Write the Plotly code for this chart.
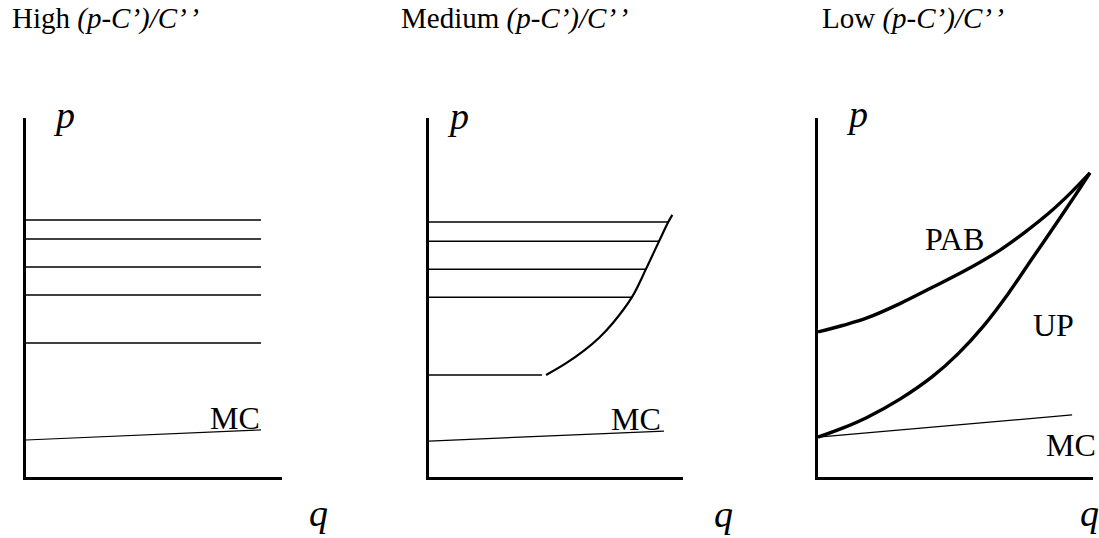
"""
Three panels: price lines vs. marginal cost for high / medium / low (p-C')/C''.
"""

import plotly.graph_objects as go

W, H = 1099, 538
FONT = "Liberation Serif, Times New Roman, serif"

titles = ["High", "Medium", "Low"]

# panel 1 (high): flat price lines ending at the same q
high_prices = [7.16, 6.63, 5.85, 5.07, 3.73]
high_q_end = [9.18, 9.18, 9.18, 9.18, 9.18]
high_mc_q = [0, 9.18]
high_mc_p = [1.03, 1.31]

# panel 2 (medium): flat price lines ending on a rising curve
med_prices = [7.10, 6.57, 5.79, 5.01, 2.84]
med_q_end = [9.42, 9.06, 8.54, 7.99, 4.45]
med_curve_q = [4.61, 5.40, 6.10, 6.70, 7.24, 7.99, 8.54, 9.06, 9.42, 9.58]
med_curve_p = [2.84, 3.17, 3.52, 3.88, 4.29, 5.01, 5.79, 6.57, 7.10, 7.30]
med_mc_q = [0, 9.25]
med_mc_p = [1.00, 1.28]

# panel 3 (low): PAB and UP curves
pab_q = [0, 0.89, 1.78, 2.98, 4.18, 5.40, 6.62, 7.53, 8.44, 9.17, 9.89]
pab_p = [4.04, 4.22, 4.43, 4.83, 5.29, 5.77, 6.32, 6.82, 7.38, 7.90, 8.47]
up_q = [0, 0.89, 1.78, 2.98, 4.18, 5.09, 6.00, 6.91, 7.82, 8.44, 9.05, 9.47, 9.89]
up_p = [1.11, 1.36, 1.66, 2.17, 2.81, 3.43, 4.19, 5.10, 6.12, 6.81, 7.50, 7.98, 8.47]
low_mc_q = [0, 9.24]
low_mc_p = [1.11, 1.73]

# pixel boxes of the three axes (left, right) and shared (top, bottom)
panel_x = [(26, 282), (429, 683), (818, 1093)]
panel_top, panel_bottom = 118, 477


def steps(prices, ends):
    xs, ys = [], []
    for p, e in zip(prices, ends):
        xs += [0, e, None]
        ys += [p, p, None]
    return xs, ys


fig = go.Figure()

# panel 1
x, y = steps(high_prices, high_q_end)
fig.add_trace(go.Scatter(x=x, y=y, mode="lines", line=dict(color="black", width=1.5),
                         xaxis="x", yaxis="y"))
fig.add_trace(go.Scatter(x=high_mc_q, y=high_mc_p, mode="lines",
                         line=dict(color="black", width=1.2), xaxis="x", yaxis="y"))

# panel 2
x, y = steps(med_prices, med_q_end)
fig.add_trace(go.Scatter(x=x, y=y, mode="lines", line=dict(color="black", width=1.5),
                         xaxis="x2", yaxis="y2"))
fig.add_trace(go.Scatter(x=med_curve_q, y=med_curve_p, mode="lines",
                         line=dict(color="black", width=2.2, shape="spline", smoothing=1),
                         xaxis="x2", yaxis="y2"))
fig.add_trace(go.Scatter(x=med_mc_q, y=med_mc_p, mode="lines",
                         line=dict(color="black", width=1.2), xaxis="x2", yaxis="y2"))

# panel 3
fig.add_trace(go.Scatter(x=pab_q, y=pab_p, mode="lines",
                         line=dict(color="black", width=3.4, shape="spline", smoothing=1),
                         xaxis="x3", yaxis="y3"))
fig.add_trace(go.Scatter(x=up_q, y=up_p, mode="lines",
                         line=dict(color="black", width=3.4, shape="spline", smoothing=1),
                         xaxis="x3", yaxis="y3"))
fig.add_trace(go.Scatter(x=low_mc_q, y=low_mc_p, mode="lines",
                         line=dict(color="black", width=1.2), xaxis="x3", yaxis="y3"))

axis_style = dict(showline=True, linewidth=3, linecolor="black", showgrid=False,
                  zeroline=False, showticklabels=False, ticks="", range=[0, 10],
                  fixedrange=True)
ydom = [1 - panel_bottom / H, 1 - panel_top / H]
layout_axes = {}
for i, (l, r) in enumerate(panel_x):
    sfx = "" if i == 0 else str(i + 1)
    layout_axes["xaxis" + sfx] = dict(axis_style, domain=[l / W, r / W],
                                      anchor="y" + sfx)
    layout_axes["yaxis" + sfx] = dict(axis_style, domain=ydom, anchor="x" + sfx)

annotations = []
title_x = [10, 399, 820]
for t, tx in zip(titles, title_x):
    annotations.append(dict(text=t + " <i>(p-C’)/C’\u200a’</i>", xref="paper", yref="paper",
                            x=tx / W, y=1 - 19 / H, xanchor="left", yanchor="middle",
                            showarrow=False, font=dict(size=29)))

# axis letters, placed in page pixels (x, y, anchor)
axis_letters = [
    ("<i>p</i>", 51, 115, "left"),
    ("<i>p</i>", 445, 116, "left"),
    ("<i>p</i>", 844, 114, "left"),
    ("<i>q</i>", 318, 512.5, "center"),
    ("<i>q</i>", 723, 513.5, "center"),
    ("<i>q</i>", 1089, 513, "center"),
]
for txt, px, py, anc in axis_letters:
    annotations.append(dict(text=txt, xref="paper", yref="paper", x=px / W, y=1 - py / H,
                            xanchor=anc, yanchor="middle", showarrow=False,
                            font=dict(size=38)))

# curve labels (data coordinates of each panel)
labels = [
    ("x", "y", "MC", 8.16, 1.64),
    ("x2", "y2", "MC", 8.14, 1.61),
    ("x3", "y3", "MC", 9.2, 0.89),
    ("x3", "y3", "PAB", 4.98, 6.63),
    ("x3", "y3", "UP", 8.55, 4.23),
]
for xr, yr, txt, ax, ay in labels:
    annotations.append(dict(text=txt, xref=xr, yref=yr, x=ax, y=ay, xanchor="center",
                            yanchor="middle", showarrow=False, font=dict(size=32)))

fig.update_layout(
    width=W, height=H,
    margin=dict(l=0, r=0, t=0, b=0),
    showlegend=False,
    paper_bgcolor="white",
    plot_bgcolor="white",
    font=dict(family=FONT, color="black"),
    annotations=annotations,
    **layout_axes,
)

fig.write_html("out.html", config={"displayModeBar": False},
               post_script="document.body.style.margin='0px';")
